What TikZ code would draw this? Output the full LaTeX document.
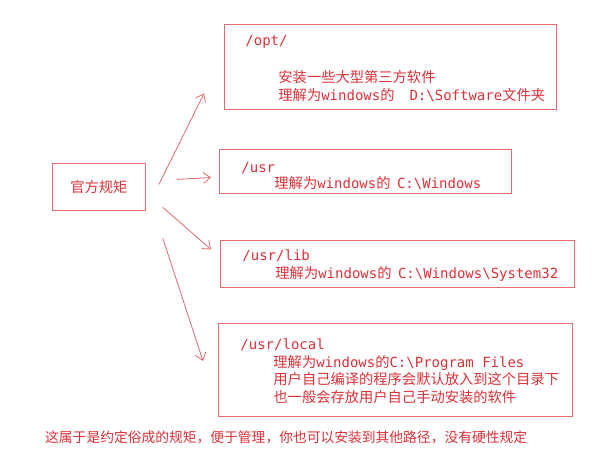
\documentclass[tikz,border=0pt]{standalone}
\usepackage{fontspec}
\setmainfont[Scale=1.02]{Noto Sans CJK SC}
\setmonofont{DejaVu Sans Mono}
\usetikzlibrary{positioning,arrows.meta}
\definecolor{cred}{HTML}{DA3238}
\definecolor{lred}{HTML}{E06A6E}
\newcommand{\bsl}{\textbackslash}
\newcommand{\lift}[1]{\rule{0pt}{#1}}
\newcommand{\tsp}{\hphantom{x}}
\newcommand{\gap}[1]{\nobreak\hspace{#1}\nobreak}
\tikzset{
  box/.style={draw=lred, line width=0.9pt, anchor=north west, align=left, text=cred,
    inner xsep=22pt, font=\fontsize{14}{18}\selectfont},
  sig/.style={-{Straight Barb[length=7pt,width=11pt]}, lred, line width=0.8pt},
}
\newcommand{\ind}{\hspace*{33pt}}

\begin{document}
\begin{tikzpicture}[x=1pt, y=-1pt]
      \useasboundingbox (0,0) rectangle (598,465);
      \node[box, align=center, inner xsep=0pt, minimum width=93pt, minimum height=47pt] (rule) at (52,163) {官方规矩};
      \node[box, inner xsep=21pt, text width=290pt, minimum height=85pt] (opt) at (224,24)
        {\lift{14pt}\texttt{/opt/}\\[19pt]
         \ind 安装一些大型第三方软件\\
         \ind\mbox{理解为\texttt{windows}的\gap{15pt}\texttt{D:\bsl Software}文件夹}};
      \node[box, text width=248pt, minimum height=44pt] (usr) at (219,149)
        {\lift{20pt}\texttt{/usr}\\[-2pt]
         \ind\mbox{理解为\texttt{windows}的\gap{6.5pt}\texttt{C:\bsl Windows}}};
      \node[box, text width=310pt, minimum height=47pt] (lib) at (220,240)
        {\lift{15pt}\texttt{/usr/lib}\\
         \ind\mbox{理解为\texttt{windows}的\gap{6.5pt}\texttt{C:\bsl Windows\bsl System32}}};
      \node[box, text width=310pt, minimum height=93pt] (local) at (218,323)
        {\lift{13pt}\texttt{/usr/local}\\[-0.5pt]
         \ind\mbox{理解为\texttt{windows}的\texttt{C:\bsl Program\tsp Files}}\\[-0.5pt]
         \ind 用户自己编译的程序会默认放入到这个目录下\\[-0.5pt]
         \ind 也一般会存放用户自己手动安装的软件};
      \node[anchor=west, text=cred, inner sep=0pt, font=\fontsize{13.5}{16}\selectfont] (note) at (45,437)
        {这属于是约定俗成的规矩，便于管理，你也可以安装到其他路径，没有硬性规定};
      \draw[sig] ([shift={(13,-2.5)}]rule.east) -- ([shift={(-20,26.5)}]opt.west);
      \draw[sig] ([shift={(31,-7.5)}]rule.east) -- ([shift={(-8,6)}]usr.west);
      \draw[sig] ([shift={(17,20.5)}]rule.east) -- ([shift={(-9,-14.5)}]lib.west);
      \draw[sig] ([shift={(17,51.5)}]rule.east) -- ([shift={(-15,-9)}]local.west);
    \end{tikzpicture}
\end{document}
